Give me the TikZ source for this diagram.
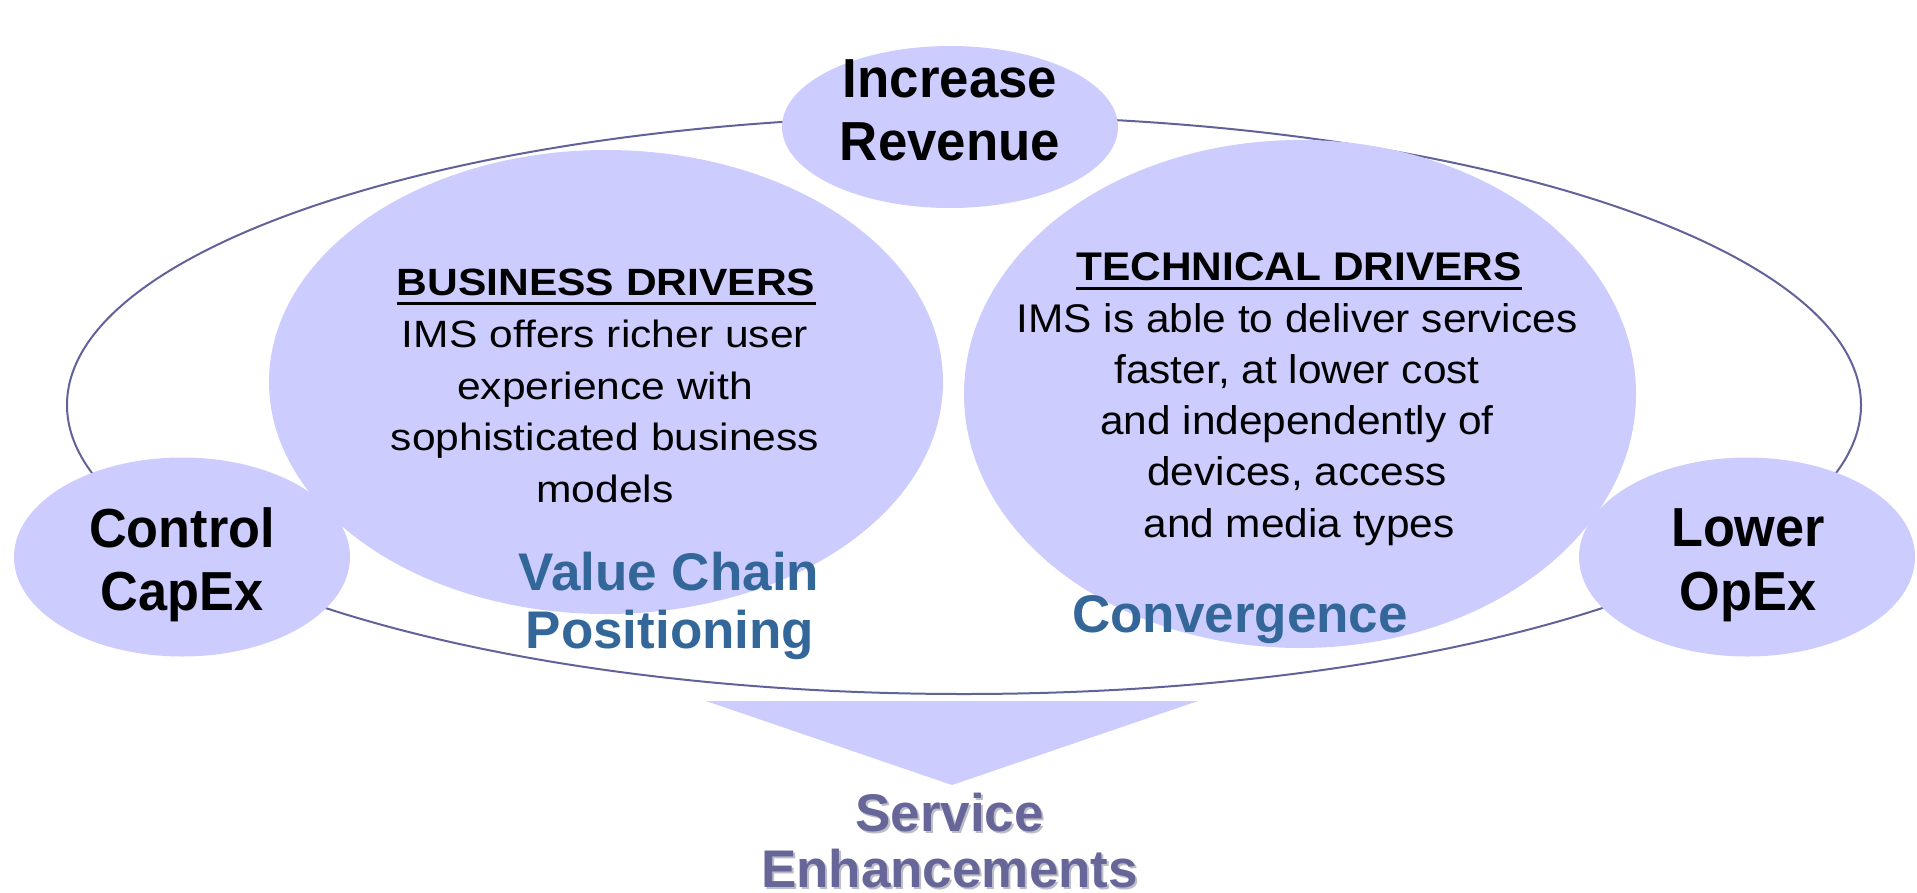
\documentclass[tikz,border=0pt]{standalone}
\usepackage{fontspec}
\setmainfont{Liberation Sans}
\usetikzlibrary{shapes.geometric}
\definecolor{bub}{HTML}{CCCCFF}
\definecolor{rim}{HTML}{62629A}
\definecolor{steel}{HTML}{336699}
\definecolor{slate}{HTML}{666699}
\definecolor{shade}{HTML}{BDBDC8}
\newcommand\hst[2]{\scalebox{#1}[1]{#2}}
\tikzset{
  bubble/.style={ellipse, fill=bub, draw=none, inner sep=0pt},
  bigtxt/.style={anchor=base, inner sep=0pt, font=\bfseries\fontsize{55}{63}\selectfont},
  coltxt/.style={anchor=base, inner sep=0pt, text=steel, font=\bfseries\fontsize{53}{58}\selectfont},
  bodytxt/.style={anchor=base, inner sep=0pt, font=\fontsize{38}{51}\selectfont},
  headtxt/.style={anchor=base, inner sep=0pt, font=\bfseries\fontsize{38}{51}\selectfont},
  tbodytxt/.style={anchor=base, inner sep=0pt, font=\fontsize{40}{51}\selectfont},
  theadtxt/.style={anchor=base, inner sep=0pt, font=\bfseries\fontsize{40}{51}\selectfont},
  svctxt/.style={anchor=base, inner sep=0pt, text=slate, font=\bfseries\fontsize{53}{57}\selectfont},
  svcshadow/.style={anchor=base, inner sep=0pt, text=shade, font=\bfseries\fontsize{53}{57}\selectfont},
}
\begin{document}
\begin{tikzpicture}[x=1pt,y=-1pt]
\useasboundingbox (0,0) rectangle (1917,892);
% outer ring
\node[ellipse, draw=rim, line width=2pt, minimum width=1794pt, minimum height=578pt, inner sep=0pt] (ring) at (964,405) {};
% bubbles
\node[bubble, minimum width=674pt, minimum height=464pt] (biz) at (606,382) {};
\node[bubble, minimum width=672pt, minimum height=508pt] (tech) at (1300,394) {};
\node[bubble, minimum width=336pt, minimum height=162pt] (rev) at (950,127) {};
\node[bubble, minimum width=336pt, minimum height=199pt] (capex) at (182,557) {};
\node[bubble, minimum width=336pt, minimum height=199pt] (opex) at (1747,557) {};
% arrow triangle
\coordinate (tl) at (706,701);
\coordinate (tr) at (1198,701);
\coordinate (tip) at (952,785);
\fill[bub] (tl) -- (tr) -- (tip) -- cycle;
% big labels
\node[bigtxt] (rev1) at (950,97) {\hst{0.96}{Increase}};
\node[bigtxt] (rev2) at (950,160) {\hst{0.96}{Revenue}};
\node[bigtxt] (cap1) at (182,547) {\hst{0.95}{Control}};
\node[bigtxt] (cap2) at (182,610) {\hst{0.95}{CapEx}};
\node[bigtxt] (op1) at (1748,546) {\hst{0.95}{Lower}};
\node[bigtxt] (op2) at (1748,610) {\hst{0.95}{OpEx}};
% business drivers text
\node[headtxt] (bh) at (606,295) {\hst{1.12}{BUSINESS DRIVERS}};
\draw[line width=3.5pt] ([yshift=-8.5pt]bh.base west) -- ([yshift=-8.5pt]bh.base east);
\node[bodytxt] (b1) at (605,347) {\hst{1.12}{IMS offers richer user}};
\node[bodytxt] (b2) at (605,399) {\hst{1.12}{experience with}};
\node[bodytxt] (b3) at (605,450) {\hst{1.12}{sophisticated business}};
\node[bodytxt] (b4) at (605,502) {\hst{1.12}{models}};
% technical drivers text
\node[theadtxt] (th) at (1299,280) {\hst{1.06}{TECHNICAL DRIVERS}};
\draw[line width=3.5pt] ([yshift=-8.5pt]th.base west) -- ([yshift=-8.5pt]th.base east);
\node[tbodytxt] (t1) at (1297,332) {\hst{1.06}{IMS is able to deliver services}};
\node[tbodytxt] (t2) at (1297,383) {\hst{1.06}{faster, at lower cost}};
\node[tbodytxt] (t3) at (1297,434) {\hst{1.06}{and independently of}};
\node[tbodytxt] (t4) at (1297,485) {\hst{1.06}{devices, access}};
\node[tbodytxt] (t5) at (1299,537) {\hst{1.06}{and media types}};
% coloured labels
\node[coltxt] (vc1) at (669,590) {Value Chain};
\node[coltxt] (vc2) at (670,648) {Positioning};
\node[coltxt] (conv) at (1240,632) {Convergence};
% service enhancements
\node[svcshadow] (se1s) at (951.5,833.5) {Service};
\node[svcshadow] (se2s) at (951.5,889.5) {Enhancements};
\node[svctxt] (se1) at (949.5,831.5) {Service};
\node[svctxt] (se2) at (949.5,887.5) {Enhancements};
\end{tikzpicture}
\end{document}
